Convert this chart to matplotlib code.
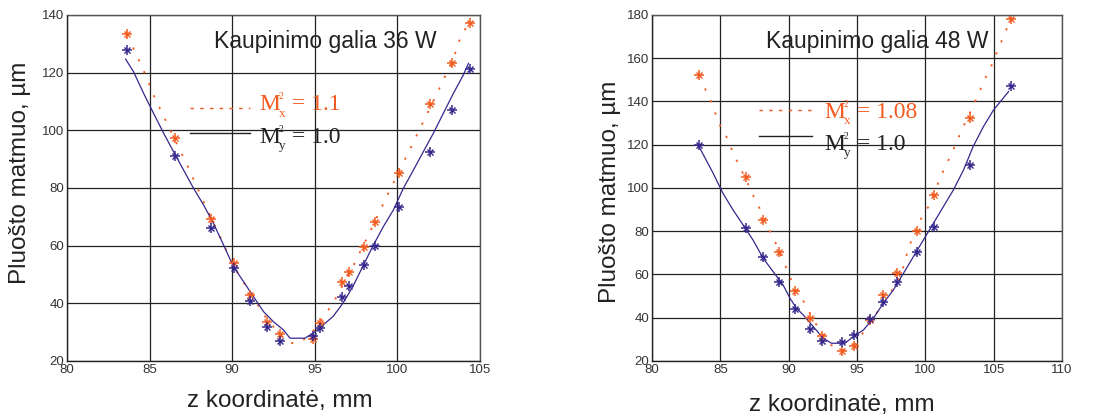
import matplotlib
matplotlib.use("Agg")
import matplotlib.pyplot as plt

plt.rcParams['font.family'] = ['Liberation Sans', 'DejaVu Sans']

# ---- 36 W data ----
z36_meas = [83.65, 86.53, 88.73, 90.08, 91.1, 92.1, 92.9, 94.9, 95.3, 96.65, 97.1, 97.96, 98.67, 100.1, 101.96, 103.29, 104.4]
wx36_meas = [133.5, 97.5, 69.4, 54.0, 42.8, 33.5, 29.4, 27.7, 33.0, 47.3, 50.7, 59.5, 68.2, 85.2, 109.0, 123.5, 137.2]
wy36_meas = [128.0, 91.1, 66.2, 52.3, 40.8, 31.7, 27.0, 28.8, 31.6, 42.3, 46.1, 53.2, 59.9, 73.5, 92.6, 107.2, 121.2]

z36_fity = [83.55, 84.03, 84.64, 85.24, 85.85, 86.45, 87.06, 87.66, 88.27, 88.87, 89.48, 90.08, 90.69, 91.29, 91.9, 92.5, 93.1, 93.5, 94.4, 94.9, 95.5, 96.1, 96.7, 97.3, 97.9, 98.5, 99.15, 99.76, 100.36, 100.97, 101.57, 102.18, 102.78, 103.39, 103.99, 104.3]
wy36_fit = [124.7, 120.3, 112.8, 105.9, 99.0, 92.6, 86.2, 79.9, 74.1, 67.7, 60.2, 52.7, 47.5, 42.3, 37.1, 33.6, 30.8, 27.9, 27.9, 29.6, 32.5, 35.4, 40.0, 45.8, 52.7, 59.7, 66.6, 72.4, 79.9, 86.2, 92.6, 99.0, 105.9, 112.8, 119.2, 123.2]

z36_fitx = [84.0, 84.64, 85.28, 86.25, 87.3, 88.27, 89.27, 90.1, 91.1, 92.0, 92.9, 93.5, 94.2, 95.0, 96.1, 97.3, 98.3, 99.3, 100.3, 101.37, 102.4, 103.4, 103.9, 104.4]
wx36_fit = [128.7, 120.7, 111.7, 100.1, 87.6, 75.2, 63.1, 52.7, 43.5, 35.4, 29.0, 26.1, 26.7, 31.0, 40.0, 52.7, 64.3, 76.4, 88.0, 100.7, 112.8, 125.0, 133.6, 137.2]

# ---- 48 W data ----
z48_meas = [83.44, 86.87, 88.14, 89.31, 90.48, 91.56, 92.46, 93.9, 94.8, 95.95, 96.93, 97.96, 99.4, 100.62, 103.3, 106.24]
wx48_meas = [152.4, 105.2, 85.2, 70.4, 52.4, 39.7, 31.6, 24.8, 27.1, 38.9, 50.6, 60.8, 80.1, 96.8, 132.5, 178.0]
wy48_meas = [119.7, 81.5, 68.2, 56.7, 44.1, 34.6, 29.4, 28.6, 32.0, 39.3, 47.3, 56.5, 70.6, 82.0, 110.5, 147.3]

z48_fity = [83.44, 84.47, 85.2, 85.94, 86.67, 87.4, 88.14, 88.87, 89.6, 90.1, 90.58, 91.07, 91.8, 92.53, 93.14, 94.12, 94.73, 95.47, 96.2, 96.93, 97.66, 98.4, 99.13, 99.86, 100.6, 101.33, 102.06, 102.8, 103.5, 104.26, 105.0, 105.7, 106.1]
wy48_fit = [119.2, 106.9, 97.5, 89.8, 82.9, 75.9, 67.5, 61.3, 55.1, 49.0, 44.4, 41.3, 35.9, 30.5, 28.2, 28.2, 31.3, 34.3, 39.7, 46.7, 52.8, 60.5, 68.2, 75.9, 83.7, 91.4, 99.1, 108.3, 119.1, 128.4, 136.1, 141.5, 144.6]

z48_fitx = [83.88, 84.28, 84.64, 85.0, 85.45, 85.8, 86.18, 87.04, 87.45, 87.84, 88.6, 89.0, 89.8, 90.14, 91.07, 91.92, 93.1, 94.0, 94.8, 95.3, 95.7, 96.7, 97.66, 98.27, 98.76, 99.5, 99.99, 100.35, 101.08, 101.52, 101.94, 102.3, 102.67, 103.9, 104.26, 104.7, 106.24]
wx48_fit = [146.0, 140.7, 134.5, 128.7, 123.7, 118.4, 113.0, 101.7, 96.0, 91.1, 80.3, 75.3, 63.6, 58.2, 47.9, 37.8, 27.4, 25.0, 27.5, 31.6, 35.5, 44.5, 53.6, 60.5, 72.0, 83.7, 88.9, 92.6, 104.5, 110.6, 116.0, 121.4, 126.8, 143.3, 149.2, 154.3, 178.0]

titles = ["Kaupinimo galia 36 W", "Kaupinimo galia 48 W"]
mx_values = ["= 1.1", "= 1.08"]
my_values = ["= 1.0", "= 1.0"]
xlims = [(80, 105), (80, 110)]
ylims = [(20, 140), (20, 180)]
xticks = [[80, 85, 90, 95, 100, 105], [80, 85, 90, 95, 100, 105, 110]]
yticks = [[20, 40, 60, 80, 100, 120, 140], [20, 40, 60, 80, 100, 120, 140, 160, 180]]

ORANGE = '#F25A1E'
BLUE = '#35288C'
DARK = '#222222'

fig = plt.figure(figsize=(11.05, 4.18), dpi=100)
axes = [fig.add_axes([0.0606, 0.1364, 0.3738, 0.8278]),
        fig.add_axes([0.590, 0.1364, 0.371, 0.8278])]

datasets = [
    (z36_meas, wx36_meas, wy36_meas, z36_fitx, wx36_fit, z36_fity, wy36_fit),
    (z48_meas, wx48_meas, wy48_meas, z48_fitx, wx48_fit, z48_fity, wy48_fit),
]

# per-panel layout (axes fractions)
title_pos = [(0.625, 0.922), (0.549, 0.922)]
leg_line_x = [(0.298, 0.443), (0.261, 0.39)]
leg_y = [(0.731, 0.659), (0.725, 0.650)]
leg_text_x = [0.465, 0.420]
leg_text_y = [(0.724, 0.630), (0.702, 0.610)]   # baselines
ylabel_pos = [(-0.088, 0.543), (-0.075, 0.488)]
xlabel_pos = [(0.515, -0.085), (0.463, -0.095)]


def m2_label(ax, x, y, sub, value, color):
    kw = dict(xycoords='axes fraction', textcoords='offset points',
              family='Liberation Serif', color=color, va='baseline', ha='left')
    ax.annotate("M", xy=(x, y), xytext=(0, 0), fontsize=17, **kw)
    ax.annotate("2", xy=(x, y), xytext=(14.2, 8.0), fontsize=7, **kw)
    ax.annotate(sub, xy=(x, y), xytext=(14.0, -4.5), fontsize=9.5, **kw)
    ax.annotate(value, xy=(x, y), xytext=(23.5, 0), fontsize=17, **kw)


for i, ax in enumerate(axes):
    zm, wxm, wym, zfx, wxf, zfy, wyf = datasets[i]
    ax.set_xlim(*xlims[i])
    ax.set_ylim(*ylims[i])
    ax.set_xticks(xticks[i])
    ax.set_yticks(yticks[i])
    ax.grid(True, color=DARK, linewidth=0.9)
    ax.set_axisbelow(True)
    ax.tick_params(length=0, labelsize=9.5, labelcolor='#333333', pad=2)
    for s in ax.spines.values():
        s.set_color('#555555')
        s.set_linewidth(1.0)
    ax.spines['bottom'].set_color(DARK)
    ax.spines['left'].set_color(DARK)

    ax.plot(zfx, wxf, color=ORANGE, linestyle=(0, (1.2, 6)), linewidth=1.3)
    ax.plot(zfy, wyf, color=BLUE, linestyle='-', linewidth=0.9)
    for w, c in ((wxm, ORANGE), (wym, BLUE)):
        ax.plot(zm, w, linestyle='none', marker='+', markersize=7.5, color=c, markeredgewidth=1.1)
        ax.plot(zm, w, linestyle='none', marker='x', markersize=4, color=c, markeredgewidth=1.0)

    ax.text(*title_pos[i], titles[i], transform=ax.transAxes, ha='center', va='center',
            fontsize=16.5, color=DARK)
    # legend-like annotations
    ax.plot(leg_line_x[i], [leg_y[i][0]] * 2, transform=ax.transAxes, color=ORANGE,
            linestyle=(0, (2.5, 4.5)), linewidth=1.0)
    ax.plot(leg_line_x[i], [leg_y[i][1]] * 2, transform=ax.transAxes, color=DARK,
            linestyle='-', linewidth=1.0)
    m2_label(ax, leg_text_x[i], leg_text_y[i][0], "x", mx_values[i], ORANGE)
    m2_label(ax, leg_text_x[i], leg_text_y[i][1], "y", my_values[i], DARK)

    ax.set_xlabel("z koordinatė, mm", fontsize=17.5, color=DARK)
    ax.set_ylabel("Pluošto matmuo, µm", fontsize=17.5, color=DARK)
    ax.xaxis.set_label_coords(*xlabel_pos[i])
    ax.yaxis.set_label_coords(*ylabel_pos[i])

fig.savefig("out.png", dpi=100)
